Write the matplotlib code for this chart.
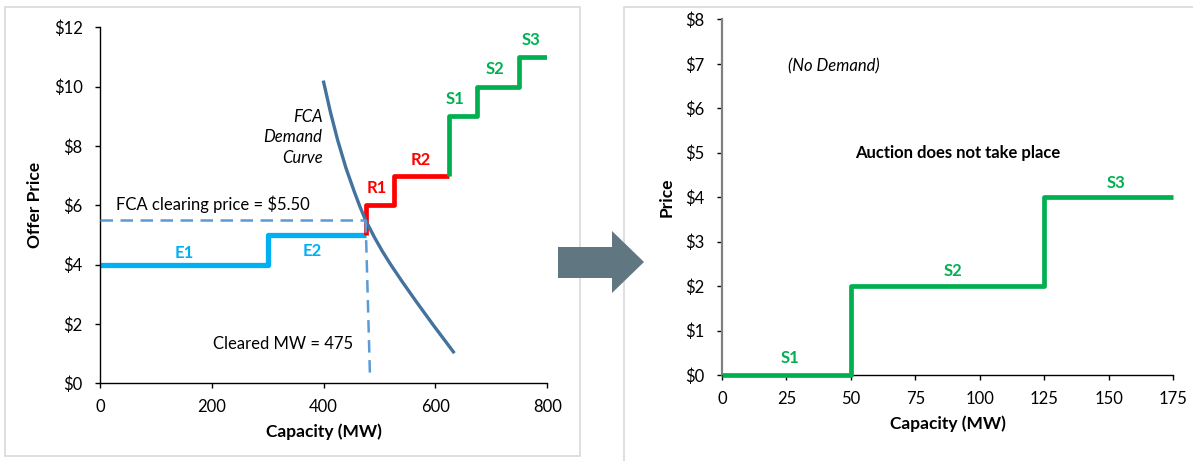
import matplotlib.pyplot as plt
from matplotlib.patches import Rectangle, Polygon
from matplotlib.ticker import FuncFormatter, MultipleLocator

plt.rcParams['font.family'] = ['Lato', 'DejaVu Sans']
plt.rcParams['font.size'] = 12

# offer stack (MW, $/kW-month)
e_mw = [0, 300, 475]
e_price = [4, 5, 5]
r_mw = [475, 475, 525, 625]
r_price = [5, 6, 7, 7]
s_mw = [625, 625, 675, 750, 800]
s_price = [7, 9, 10, 11, 11]

# demand curve
demand_mw = [400, 412, 425, 440, 455, 465, 475, 490, 505, 520, 540, 565, 595, 632]
demand_price = [10.15, 9.15, 8.2, 7.25, 6.45, 5.95, 5.5, 4.95, 4.45, 4.0, 3.44,
                2.77, 1.99, 1.06]

clearing_price = 5.50
cleared_mw = 475
cleared_drop_mw = [475, 483]
cleared_drop_price = [5.5, 0.15]

# no-demand case
nd_mw = [0, 50, 125, 175]
nd_price = [0, 2, 4, 4]

BLUE = '#00B0F0'
RED = '#FF0000'
GREEN = '#00B050'
CURVE = '#44729E'
DASH = '#5B9BD5'

W, H = 1193, 461


def px_rect(x0, y0, x1, y1):
    return [x0 / W, 1 - y1 / H, (x1 - x0) / W, (y1 - y0) / H]


fig = plt.figure(figsize=(W / 100, H / 100), dpi=100)

# panel frames
for x0, y0, x1, y1 in [(4.7, 6.7, 580, 456), (624, 6.7, 1205, 470)]:
    fig.patches.append(Rectangle((x0 / W, 1 - y1 / H), (x1 - x0) / W, (y1 - y0) / H,
                                 transform=fig.transFigure, fill=False,
                                 edgecolor='#D9D9D9', linewidth=1.2, zorder=0))

dollar = FuncFormatter(lambda v, pos: '$%d' % v)

# ---- left: auction with demand curve
ax = fig.add_axes(px_rect(100, 27.3, 547.3, 383.3))
ax.step(e_mw, e_price, where='post', color=BLUE, lw=3.8, solid_capstyle='butt')
ax.step(r_mw, r_price, where='post', color=RED, lw=3.4, solid_capstyle='butt')
ax.step(s_mw, s_price, where='post', color=GREEN, lw=3.4, solid_capstyle='butt')
ax.plot(demand_mw, demand_price, color=CURVE, lw=2.4, zorder=4,
        solid_joinstyle='round')
ax.plot([0, cleared_mw], [clearing_price, clearing_price], color=DASH, lw=1.8,
        dashes=(5, 3), zorder=5)
ax.plot(cleared_drop_mw, cleared_drop_price, color=DASH, lw=1.8, dashes=(5, 3), zorder=5)

ax.set_xlim(0, 800)
ax.set_ylim(0, 12)
ax.xaxis.set_major_locator(MultipleLocator(200))
ax.yaxis.set_major_locator(MultipleLocator(2))
ax.yaxis.set_major_formatter(dollar)
ax.set_xlabel('Capacity (MW)', fontweight='bold', fontsize=12.5, labelpad=6)
ax.set_ylabel('Offer Price', fontweight='bold', fontsize=12.5, labelpad=8)

lbl = dict(fontweight='bold', ha='center', va='center')
ax.text(150, 4.4, 'E1', color=BLUE, **lbl)
ax.text(379, 4.45, 'E2', color=BLUE, **lbl)
ax.text(495, 6.57, 'R1', color=RED, **lbl)
ax.text(573, 7.53, 'R2', color=RED, **lbl)
ax.text(635, 9.57, 'S1', color=GREEN, **lbl)
ax.text(706, 10.6, 'S2', color=GREEN, **lbl)
ax.text(771, 11.57, 'S3', color=GREEN, **lbl)
ax.text(398, 8.3, 'FCA\nDemand\nCurve', style='italic', ha='right', va='center',
        linespacing=1.35)
ax.text(29, 6.04, 'FCA clearing price = $%.2f' % clearing_price, ha='left', va='center')
ax.text(452, 1.32, 'Cleared MW = %d' % cleared_mw, ha='right', va='center')

# ---- right: no demand
ax2 = fig.add_axes(px_rect(722, 19.3, 1173, 375))
ax2.step(nd_mw, nd_price, where='post', color=GREEN, lw=3.4, clip_on=False,
         zorder=5, solid_capstyle='butt')
ax2.set_xlim(0, 175)
ax2.set_ylim(0, 8)
ax2.xaxis.set_major_locator(MultipleLocator(25))
ax2.yaxis.set_major_locator(MultipleLocator(1))
ax2.yaxis.set_major_formatter(dollar)
ax2.set_xlabel('Capacity (MW)', fontweight='bold', fontsize=12.5, labelpad=6)
ax2.set_ylabel('Price', fontweight='bold', fontsize=12.5, labelpad=8)
ax2.text(26.4, 0.39, 'S1', color=GREEN, **lbl)
ax2.text(89.8, 2.34, 'S2', color=GREEN, **lbl)
ax2.text(153, 4.32, 'S3', color=GREEN, **lbl)
ax2.text(25.7, 6.95, '(No Demand)', style='italic', ha='left', va='center')
ax2.text(91.4, 5.0, 'Auction does not take place', fontweight='bold',
         ha='center', va='center')

for a in (ax, ax2):
    a.spines['top'].set_visible(False)
    a.spines['right'].set_visible(False)
    a.spines['bottom'].set_linewidth(1.0)
    a.tick_params(direction='out', length=3.5, width=1.0, pad=8)
    a.tick_params(axis='y', pad=9)
ax.spines['left'].set_linewidth(1.0)
ax2.spines['left'].set_color('#808080')
ax2.spines['left'].set_linewidth(1.6)

# arrow between panels
arrow_px = [(558, 247), (612, 247), (612, 231), (644, 262), (612, 293),
            (612, 278), (558, 278)]
fig.patches.append(Polygon([(x / W, 1 - y / H) for x, y in arrow_px], closed=True,
                           transform=fig.transFigure, facecolor='#607680',
                           edgecolor='none', zorder=10))

fig.savefig('out.png', dpi=100)
